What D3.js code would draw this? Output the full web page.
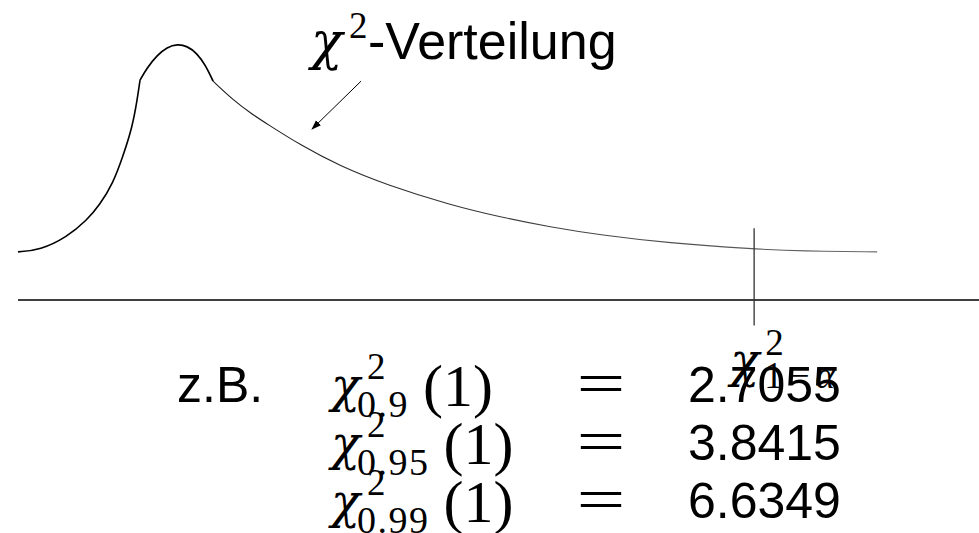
<!DOCTYPE html>
<html>
<head>
<meta charset="utf-8">
<script src="https://cdn.jsdelivr.net/npm/d3@7"></script>
<style>
  html, body { margin: 0; padding: 0; background: #fff; overflow: hidden; }
</style>
</head>
<body>
<svg id="chart" width="979" height="533"></svg>
<script>
// Sketch of a chi-square density: steep rise, rounded peak, long flat tail.
// x in abstract units along the axis, y as density relative to the peak.
const riseX = [0, 0.23, 0.51, 0.72, 0.85, 0.99, 1.09, 1.19, 1.24, 1.27];
const riseY = [0.188, 0.195, 0.246, 0.313, 0.371, 0.457, 0.559, 0.676, 0.781, 0.859];
const peakX = [1.27, 1.34, 1.45, 1.55, 1.66, 1.76, 1.86, 1.95, 2.03];
const peakY = [0.859, 0.906, 0.957, 0.988, 1.000, 0.992, 0.965, 0.918, 0.855];
const tailX = [2.03, 2.24, 2.42, 2.59, 2.94, 3.35, 3.84, 4.50, 5.02, 5.54, 6.06, 6.76, 7.66, 8.15, 8.94];
const tailY = [0.855, 0.781, 0.730, 0.688, 0.605, 0.523, 0.449, 0.371, 0.324, 0.285, 0.254, 0.223, 0.199, 0.191, 0.188];

const axisExtent = [0, 10];
const quantileAt = 7.66;            // position of the critical value on the axis
const quantileTick = [-0.10, 0.28]; // vertical extent of its marker
const arrowFrom = [3.57, 0.855];
const arrowTo = [3.06, 0.668];

// example table: chi^2_p(1) = value
const exampleLabel = "z.B.";
const exampleLevels = ["0.9", "0.95", "0.99"];
const exampleDof = ["1", "1", "1"];
const exampleValues = ["2.7055", "3.8415", "6.6349"];
const titleText = "-Verteilung";

const svg = d3.select("#chart");

const x = d3.scaleLinear().domain([0, 10]).range([18, 979]);
const y = d3.scaleLinear().domain([0, 1]).range([300, 44]);

const SANS = "'Liberation Sans', Arial, sans-serif";
const SERIF = "'Liberation Serif', 'Times New Roman', serif";
const GREEK = "'DejaVu Serif', serif";

// fading stroke for the tail
const defs = svg.append("defs");
const grad = defs.append("linearGradient")
  .attr("id", "tailFade").attr("gradientUnits", "userSpaceOnUse")
  .attr("x1", x(tailX[0])).attr("x2", x(tailX[tailX.length - 1])).attr("y1", 0).attr("y2", 0);
grad.append("stop").attr("offset", "0%").attr("stop-color", "#1a1a1a");
grad.append("stop").attr("offset", "55%").attr("stop-color", "#444");
grad.append("stop").attr("offset", "100%").attr("stop-color", "#6a6a6a");

defs.append("marker")
  .attr("id", "arrowHead").attr("viewBox", "0 0 10 10")
  .attr("refX", 9).attr("refY", 5)
  .attr("markerWidth", 10).attr("markerHeight", 10)
  .attr("markerUnits", "userSpaceOnUse")
  .attr("orient", "auto")
  .append("path").attr("d", "M0,1.5 L10,5 L0,8.5 Z").attr("fill", "#000");

const line = d3.line().x(d => x(d[0])).y(d => y(d[1])).curve(d3.curveBasis);
const zip = (a, b) => a.map((v, i) => [v, b[i]]);

// horizontal axis
svg.append("line")
  .attr("x1", x(axisExtent[0])).attr("x2", x(axisExtent[1]))
  .attr("y1", y(0)).attr("y2", y(0))
  .attr("stroke", "#000").attr("stroke-width", 1.3);

// density strokes
svg.append("path").datum(zip(riseX, riseY)).attr("d", line)
  .attr("fill", "none").attr("stroke", "#000").attr("stroke-width", 1.6);
svg.append("path").datum(zip(peakX, peakY)).attr("d", line)
  .attr("fill", "none").attr("stroke", "#000").attr("stroke-width", 1.7);
svg.append("path").datum(zip(tailX, tailY)).attr("d", line)
  .attr("fill", "none").attr("stroke", "url(#tailFade)").attr("stroke-width", 1.1);

// critical value marker
svg.append("line")
  .attr("x1", x(quantileAt)).attr("x2", x(quantileAt))
  .attr("y1", y(quantileTick[1])).attr("y2", y(quantileTick[0]))
  .attr("stroke", "#333").attr("stroke-width", 1.3);

// pointer from the title to the curve
svg.append("line")
  .attr("x1", x(arrowFrom[0])).attr("y1", y(arrowFrom[1]))
  .attr("x2", x(arrowTo[0])).attr("y2", y(arrowTo[1]))
  .attr("stroke", "#000").attr("stroke-width", 1)
  .attr("marker-end", "url(#arrowHead)");

// title: chi^2-Verteilung
svg.append("text").attr("x", 311).attr("y", 59)
  .attr("font-family", GREEK).attr("font-style", "italic").attr("font-size", 52).text("χ");
svg.append("text").attr("x", 349).attr("y", 38)
  .attr("font-family", SERIF).attr("font-size", 37).text("2");
svg.append("text").attr("x", 368).attr("y", 59)
  .attr("font-family", SANS).attr("font-size", 52).text(titleText);

// critical value label under the marker: chi^2_{1-alpha}
const qx = x(quantileAt) - 24;
svg.append("text").attr("x", qx).attr("y", 377)
  .attr("font-family", GREEK).attr("font-style", "italic").attr("font-size", 48).text("χ");
svg.append("text").attr("x", qx + 35).attr("y", 355)
  .attr("font-family", SERIF).attr("font-size", 37).text("2");
const qsub = svg.append("text").attr("x", qx + 34).attr("y", 388)
  .attr("font-family", SERIF).attr("font-size", 37);
qsub.append("tspan").text("1");
qsub.append("tspan").attr("dx", 6).text("−");
qsub.append("tspan").attr("dx", 6).attr("font-style", "italic").text("α");

// example table
svg.append("text").attr("x", 177).attr("y", 402)
  .attr("font-family", SANS).attr("font-size", 50).text(exampleLabel);

const rowBase = [402, 460, 518];
exampleLevels.forEach((lvl, i) => {
  const by = rowBase[i];
  svg.append("text").attr("x", 331).attr("y", by)
    .attr("font-family", GREEK).attr("font-style", "italic").attr("font-size", 48).text("χ");
  svg.append("text").attr("x", 367).attr("y", by - 23)
    .attr("font-family", SERIF).attr("font-size", 37).text("2");
  const sub = svg.append("text").attr("x", 357).attr("y", by + 15)
    .attr("font-family", SERIF).attr("font-size", 38).attr("letter-spacing", 1.5).text(lvl);
  const subEnd = 357 + sub.node().getComputedTextLength();
  svg.append("text").attr("x", subEnd + 14).attr("y", by + 4)
    .attr("font-family", SERIF).attr("font-size", 60).text("(" + exampleDof[i] + ")");
  svg.append("text").attr("transform", `translate(601,${by + 2}) scale(1.4,1)`)
    .attr("text-anchor", "middle")
    .attr("font-family", SERIF).attr("font-size", 62).text("=");
  svg.append("text").attr("x", 688).attr("y", by)
    .attr("font-family", SANS).attr("font-size", 50).text(exampleValues[i]);
});
</script>
</body>
</html>
